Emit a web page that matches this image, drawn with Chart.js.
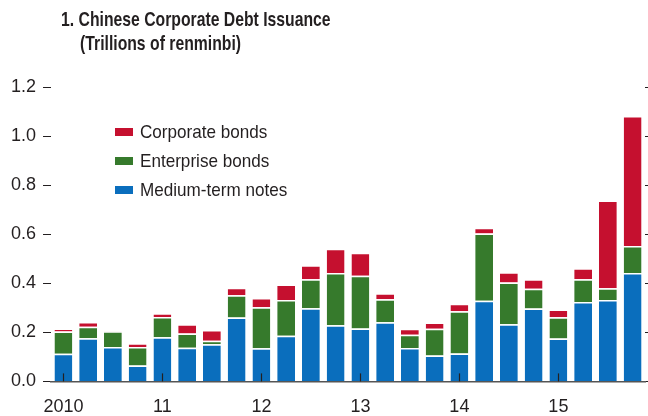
<!DOCTYPE html>
<html>
<head>
<meta charset="utf-8">
<script src="https://cdn.jsdelivr.net/npm/chart.js@4.4.1/dist/chart.umd.min.js"></script>
<style>
  html, body { margin: 0; padding: 0; background: #fff; }
  #wrap { position: relative; width: 648px; height: 416px; }
  #c { position: absolute; left: 0; top: 0; }
  .t { position: absolute; font-family: "Liberation Sans", Arial, sans-serif; font-weight: bold; color: #231f20; font-size: 21px; white-space: nowrap; line-height: 1; transform-origin: 0 0; transform: scaleX(0.75); }
</style>
</head>
<body>
<div id="wrap">
  <canvas id="c" width="648" height="416"></canvas>
  <div class="t" style="left:61px; top:8px;">1. Chinese Corporate Debt Issuance</div>
  <div class="t" style="left:80px; top:32px;">(Trillions of renminbi)</div>
</div>
<script>
const quarters = ["2010Q1","2010Q2","2010Q3","2010Q4","2011Q1","2011Q2","2011Q3","2011Q4",
  "2012Q1","2012Q2","2012Q3","2012Q4","2013Q1","2013Q2","2013Q3","2013Q4",
  "2014Q1","2014Q2","2014Q3","2014Q4","2015Q1","2015Q2","2015Q3","2015Q4"];
const yearLabels = ["2010","","","","11","","","","12","","","","13","","","","14","","","","15","","",""];
const mediumTermNotes = [0.113,0.176,0.140,0.065,0.180,0.137,0.151,0.260,0.135,0.186,0.298,0.229,0.216,0.241,0.136,0.106,0.114,0.329,0.233,0.297,0.175,0.324,0.332,0.442];
const enterpriseBonds = [0.090,0.047,0.064,0.075,0.082,0.058,0.015,0.091,0.167,0.146,0.118,0.213,0.215,0.094,0.054,0.109,0.172,0.274,0.170,0.081,0.086,0.092,0.048,0.110];
const corporateBonds = [0.013,0.019,0.002,0.015,0.016,0.038,0.044,0.031,0.038,0.063,0.057,0.099,0.093,0.024,0.025,0.025,0.030,0.023,0.042,0.038,0.032,0.045,0.357,0.530];
const yTicks = [0.0,0.2,0.4,0.6,0.8,1.0,1.2];

const FONT = "'Liberation Sans', Arial, sans-serif";
const BLUE = "#0a6ebd", GREEN = "#367a2c", RED = "#c5102f";

const legendPlugin = {
  id: "insideLegend",
  afterDraw(chart) {
    const ctx = chart.ctx;
    const items = chart.data.datasets.slice().reverse();
    ctx.save();
    ctx.font = "19px " + FONT;
    ctx.textBaseline = "middle";
    items.forEach((ds, i) => {
      const y = 132 + i * 29;
      ctx.fillStyle = ds.backgroundColor;
      ctx.fillRect(115, y - 4, 18, 8);
      ctx.fillStyle = "#231f20";
      ctx.save();
      ctx.translate(140, y + 1);
      ctx.scale(0.9, 1);
      ctx.fillText(ds.label, 0, 0);
      ctx.restore();
    });
    ctx.restore();
  }
};

const xTickPlugin = {
  id: "innerTicks",
  afterDatasetsDraw(chart) {
    const ctx = chart.ctx, xs = chart.scales.x, bottom = chart.chartArea.bottom;
    ctx.save();
    ctx.strokeStyle = "#231f20";
    ctx.lineWidth = 1.2;
    yearLabels.forEach((l, i) => {
      if (!l) return;
      const x = Math.round(xs.getPixelForValue(i)) + 0.5;
      ctx.beginPath();
      ctx.moveTo(x, bottom - 8);
      ctx.lineTo(x, bottom);
      ctx.stroke();
    });
    ctx.restore();
  }
};

new Chart(document.getElementById("c"), {
  type: "bar",
  data: {
    labels: quarters,
    datasets: [
      { label: "Medium-term notes", data: mediumTermNotes, backgroundColor: BLUE },
      { label: "Enterprise bonds", data: enterpriseBonds, backgroundColor: GREEN },
      { label: "Corporate bonds", data: corporateBonds, backgroundColor: RED }
    ]
  },
  options: {
    responsive: false,
    animation: false,
    devicePixelRatio: 1,
    layout: { padding: { top: 87, left: 4, right: -3, bottom: -17 } },
    datasets: {
      bar: {
        categoryPercentage: 1.0,
        barPercentage: 0.72,
        borderColor: "#ffffff",
        borderWidth: { top: 1.5, left: 0, right: 0, bottom: 0 },
        borderSkipped: false
      }
    },
    plugins: { legend: { display: false }, title: { display: false }, tooltip: { enabled: false } },
    scales: {
      x: {
        stacked: true,
        grid: { display: false, drawTicks: false },
        border: { display: true, color: "#555555", width: 1.5 },
        ticks: {
          autoSkip: false, maxRotation: 0, padding: 15,
          color: "#231f20", font: { family: FONT, size: 18 },
          callback: (v, i) => yearLabels[i]
        }
      },
      y: {
        stacked: true,
        min: 0, max: 1.2,
        afterBuildTicks: (s) => { s.ticks = yTicks.map(v => ({ value: v })); },
        grid: { drawOnChartArea: false, drawTicks: true, tickLength: 8, color: "#231f20", lineWidth: 1 },
        border: { display: false },
        ticks: {
          padding: 7, color: "#231f20", font: { family: FONT, size: 18 },
          callback: (v) => Number(v).toFixed(1)
        }
      },
      y2: {
        position: "right",
        min: 0, max: 1.2,
        afterBuildTicks: (s) => { s.ticks = yTicks.map(v => ({ value: v })); },
        grid: { drawOnChartArea: false, drawTicks: true, tickLength: 6, color: "#231f20", lineWidth: 1 },
        border: { display: false },
        ticks: { display: false }
      }
    }
  },
  plugins: [legendPlugin, xTickPlugin]
});
</script>
</body>
</html>
